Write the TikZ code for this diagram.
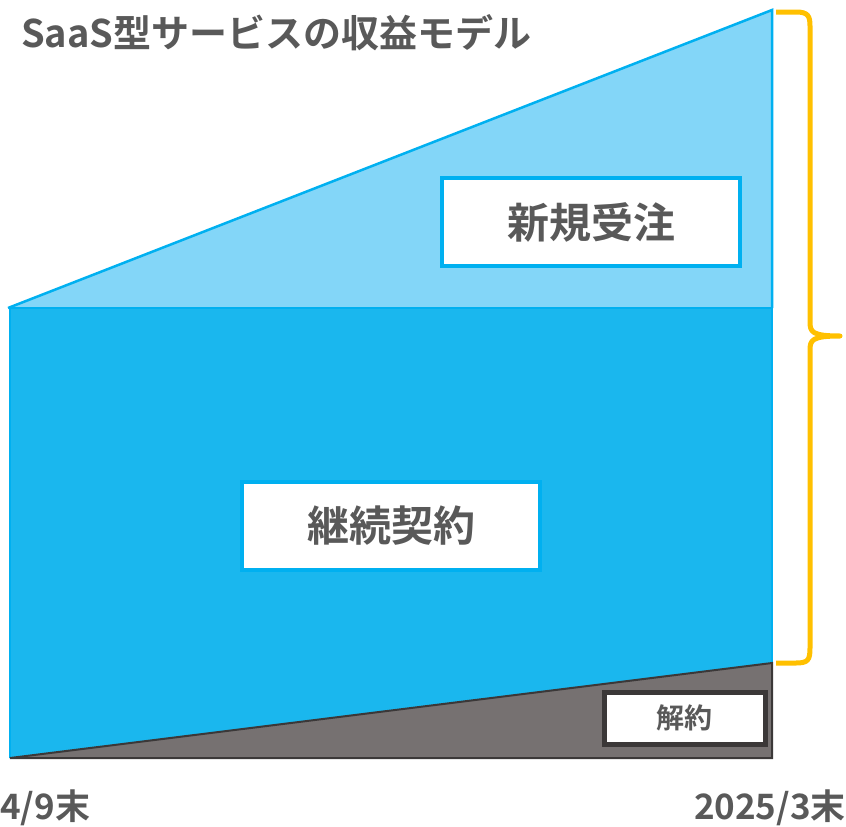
\documentclass[tikz,border=0pt]{standalone}
\usepackage{fontspec}
\setmainfont{Noto Sans CJK JP}[BoldFont={* Bold}]
\newfontfamily\jpb{Noto Sans CJK JP Bold}
\definecolor{txtgray}{HTML}{595959}
\definecolor{lightblue}{HTML}{83D6F8}
\definecolor{midblue}{HTML}{1AB7EE}
\definecolor{edgeblue}{HTML}{00B0F0}
\definecolor{graytri}{HTML}{767171}
\definecolor{darkedge}{HTML}{3B3838}
\definecolor{braceyellow}{HTML}{FFC000}
\begin{document}
\begin{tikzpicture}[x=1pt,y=-1pt,
  labelbox/.style={draw=edgeblue,line width=4pt,fill=white,minimum width=298pt,minimum height=88pt,inner sep=0pt,text=txtgray,font=\jpb\fontsize{42}{46}\selectfont},
  cancelbox/.style={draw=darkedge,line width=5pt,fill=white,minimum width=161pt,minimum height=52pt,inner sep=0pt,text=txtgray,font=\jpb\fontsize{28}{32}\selectfont},
  axislabel/.style={text=txtgray,font=\jpb\fontsize{35}{38}\selectfont,inner sep=0pt}]
\useasboundingbox (0,0) rectangle (846,827);
% coordinates
\coordinate (tl) at (10,308);
\coordinate (tr) at (772,308);
\coordinate (peak) at (772,10);
\coordinate (gr) at (772,663);
\coordinate (bl) at (10,758);
\coordinate (br) at (772,758);
% new orders triangle
\fill[lightblue] (8,308) -- (peak) -- (tr) -- cycle;
\draw[edgeblue,line width=2.5pt] (8,308) -- (peak) -- (tr);
% continuing contracts
\fill[midblue] (tl) -- (tr) -- (gr) -- (bl) -- cycle;
\draw[edgeblue,line width=1.5pt] (tl) -- (bl);
\draw[edgeblue,line width=1.5pt] (tr) -- (gr);
\draw[edgeblue,line width=1.5pt] (tl) -- (tr);
% cancellations
\fill[graytri] (bl) -- (gr) -- (br) -- cycle;
\draw[darkedge,line width=2pt] (bl) -- (gr) -- (br) -- cycle;
% labels
\node[labelbox] (new) at (591,222) {新規受注};
\node[labelbox] (cont) at (391,526) {継続契約};
\node[cancelbox] (cancel) at (684.5,718) {解約};
% brace
\draw[braceyellow,line width=5pt,line join=round]
  (776,12) -- (796,12) .. controls (808,12) and (810,16) .. (810,26)
  -- (810,322) .. controls (810,332) and (812,336) .. (840,336)
  .. controls (812,336) and (810,340) .. (810,350)
  -- (810,648) .. controls (810,660) and (808,663) .. (796,663) -- (776,663);
% title
\node[anchor=west,text=txtgray,font=\jpb\fontsize{38}{41}\selectfont,inner sep=0pt] (title) at (21,33) {SaaS型サービスの収益モデル};
% axis labels
\node[axislabel,anchor=west] (start) at (0,808) {4/9末};
\node[axislabel,anchor=east] (end) at (846,808) {2025/3末};
\end{tikzpicture}
\end{document}
